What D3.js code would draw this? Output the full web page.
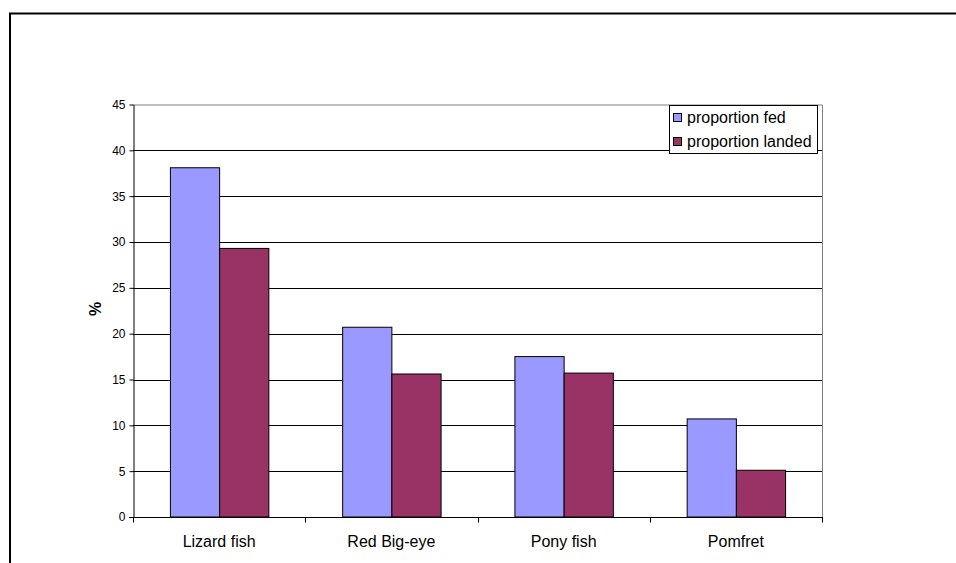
<!DOCTYPE html>
<html>
<head>
<meta charset="utf-8">
<script src="https://cdn.jsdelivr.net/npm/d3@7"></script>
<style>
  html, body { margin: 0; padding: 0; background: #fff; overflow: hidden; }
  svg { display: block; font-family: "Liberation Sans", Arial, sans-serif; }
</style>
</head>
<body>
<svg id="chart" width="956" height="563"></svg>
<script>
// Fish species and the two proportions (%) for each
const categories = ["Lizard fish", "Red Big-eye", "Pony fish", "Pomfret"];
const seriesNames = ["proportion fed", "proportion landed"];
const propFed = [38.1, 20.7, 17.5, 10.7];
const propLanded = [29.3, 15.6, 15.7, 5.1];
const yTicks = [0, 5, 10, 15, 20, 25, 30, 35, 40, 45];
const colors = ["#9999FF", "#993366"];

const svg = d3.select("#chart");

// Outer chart-area frame (top and left edges fall inside the page)
svg.append("path")
  .attr("d", "M10,563V13.5H956")
  .attr("fill", "none").attr("stroke", "#000").attr("stroke-width", 2);

const plot = { left: 133, right: 822, top: 104.5, bottom: 517 };

const x0 = d3.scaleBand().domain(categories).range([plot.left, plot.right]).paddingInner(0).paddingOuter(0);
const y = d3.scaleLinear().domain([0, 45]).range([plot.bottom, plot.top]);

// Bars occupy 2 of 3.5 units in each category (gap width 150%)
const groupW = x0.bandwidth();
const barW = groupW / 3.5;
const x1 = d3.scaleBand().domain(seriesNames)
  .range([groupW * 0.75 / 3.5, groupW * 0.75 / 3.5 + 2 * barW]).padding(0);

// Gridlines
svg.append("g").selectAll("line")
  .data(yTicks.filter(t => t > 0 && t < 45))
  .join("line")
  .attr("x1", plot.left).attr("x2", plot.right)
  .attr("y1", d => Math.round(y(d)) + 0.5).attr("y2", d => Math.round(y(d)) + 0.5)
  .attr("stroke", "#000").attr("stroke-width", 1);

// Plot frame (top and right in grey)
svg.append("path")
  .attr("d", `M${plot.left},${plot.top + 0.5}H${plot.right + 0.5}V${plot.bottom}`)
  .attr("fill", "none").attr("stroke", "#808080").attr("stroke-width", 1);

// Bars
const rows = categories.map((c, i) => ({ cat: c, vals: [propFed[i], propLanded[i]] }));
const groups = svg.append("g").selectAll("g")
  .data(rows).join("g")
  .attr("transform", d => `translate(${x0(d.cat)},0)`);
groups.selectAll("rect")
  .data(d => d.vals.map((v, j) => ({ name: seriesNames[j], v, j })))
  .join("rect")
  .attr("x", d => x1(d.name) + 0.5)
  .attr("y", d => y(d.v))
  .attr("width", x1.bandwidth())
  .attr("height", d => y(0) - y(d.v))
  .attr("fill", d => colors[d.j])
  .attr("stroke", "#000").attr("stroke-width", 1);

// Y axis
const yAxis = svg.append("g")
  .attr("transform", `translate(${plot.left + 0.5},0)`)
  .call(d3.axisLeft(y).tickValues(yTicks).tickSize(4).tickSizeOuter(0).tickPadding(4));
yAxis.select(".domain").attr("stroke", "#000");
yAxis.selectAll(".tick line").attr("stroke", "#000");
yAxis.selectAll(".tick text")
  .attr("font-size", 12).attr("fill", "#000")
  .attr("font-family", "'Liberation Sans', Arial, sans-serif");

// X axis with ticks at category boundaries
const xAxisG = svg.append("g").attr("transform", `translate(0,${plot.bottom + 0.5})`);
xAxisG.append("line")
  .attr("x1", plot.left - 4).attr("x2", plot.right + 1)
  .attr("stroke", "#000");
const bounds = categories.map(c => x0(c)).concat([plot.right]);
xAxisG.selectAll("line.tk").data(bounds).join("line")
  .attr("class", "tk")
  .attr("x1", d => Math.round(d) + 0.5).attr("x2", d => Math.round(d) + 0.5)
  .attr("y1", 0).attr("y2", 5)
  .attr("stroke", "#000");
xAxisG.selectAll("text").data(categories).join("text")
  .attr("x", d => x0(d) + groupW / 2)
  .attr("y", 29.5)
  .attr("text-anchor", "middle")
  .attr("font-size", 16).attr("fill", "#000")
  .text(d => d);

// Y axis title
svg.append("text")
  .attr("transform", `translate(101,309) rotate(-90)`)
  .attr("text-anchor", "middle")
  .attr("font-size", 16).attr("font-weight", "bold")
  .text("%");

// Legend
const legend = svg.append("g").attr("transform", "translate(669.5,105.5)");
legend.append("rect")
  .attr("width", 148).attr("height", 48)
  .attr("fill", "#fff").attr("stroke", "#000");
seriesNames.forEach((name, i) => {
  const row = legend.append("g").attr("transform", `translate(0,${i * 24})`);
  row.append("rect")
    .attr("x", 4).attr("y", 8).attr("width", 8).attr("height", 8)
    .attr("fill", colors[i]).attr("stroke", "#000");
  row.append("text")
    .attr("x", 17.5).attr("y", 17.5)
    .attr("font-size", 16).attr("fill", "#000")
    .text(name);
});
</script>
</body>
</html>
